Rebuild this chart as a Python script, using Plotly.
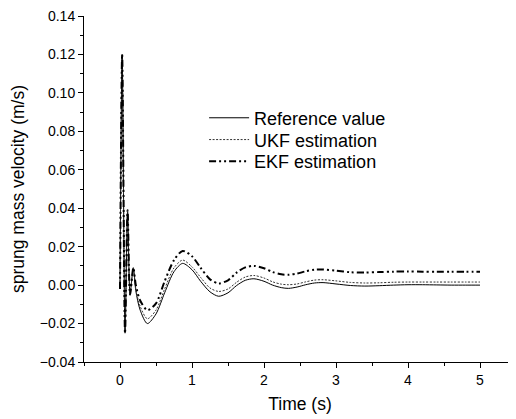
import plotly.graph_objects as go

# Time samples (s)
time_s = [0.0, 0.03, 0.07, 0.105, 0.14, 0.185, 0.22, 0.28, 0.38, 0.5, 0.62, 0.75, 0.87, 1.0, 1.12,
          1.25, 1.37, 1.5, 1.62, 1.74, 1.86, 2.0, 2.12, 2.24, 2.34, 2.46, 2.58, 2.7, 2.82, 3.0,
          3.2, 3.4, 3.6, 3.8, 4.0, 4.2, 4.4, 4.6, 4.8, 5.0]

reference_value = [-0.002, 0.12, -0.025, 0.038, -0.0045, 0.009, -0.003, -0.013, -0.020, -0.015,
                   -0.004, 0.007, 0.0113, 0.008, 0.002, -0.0035, -0.0058, -0.004, -0.0002, 0.0025,
                   0.0033, 0.002, 0.0, -0.0013, -0.0017, -0.001, 0.0002, 0.0011, 0.0013, 0.0006,
                   -0.0002, -0.0005, -0.0003, 0.0, 0.0002, 0.0002, 0.0001, 0.0, 0.0, 0.0]

ukf_estimation = [-0.002, 0.119, -0.024, 0.039, -0.004, 0.009, -0.002, -0.011, -0.0175, -0.013,
                  -0.002, 0.009, 0.013, 0.0095, 0.004, -0.0015, -0.0033, -0.002, 0.0015, 0.0042,
                  0.005, 0.0037, 0.0017, 0.0005, 0.0002, 0.0006, 0.0017, 0.0026, 0.0028, 0.0022,
                  0.0014, 0.0011, 0.0012, 0.0015, 0.0016, 0.0016, 0.0016, 0.0016, 0.0016, 0.0016]

ekf_estimation = [-0.002, 0.12, -0.025, 0.039, -0.005, 0.009, 0.0, -0.008, -0.013, -0.0095,
                  0.002, 0.013, 0.0178, 0.0150, 0.009, 0.003, 0.0009, 0.0025, 0.0065, 0.0092,
                  0.0100, 0.0088, 0.0068, 0.0056, 0.0054, 0.0060, 0.0072, 0.0080, 0.0081, 0.0075,
                  0.0067, 0.0065, 0.0068, 0.0070, 0.0071, 0.0070, 0.0069, 0.0070, 0.0070, 0.0070]

x_tick_vals = [0, 1, 2, 3, 4, 5]
y_tick_vals = [-0.04, -0.02, 0.00, 0.02, 0.04, 0.06, 0.08, 0.10, 0.12, 0.14]

FONT = "Liberation Sans, Arial, sans-serif"

fig = go.Figure()
fig.add_trace(go.Scatter(x=time_s, y=reference_value, mode="lines", name="Reference value",
                         legend="legend",
                         line=dict(color="black", width=1, shape="spline", smoothing=0.8)))
fig.add_trace(go.Scatter(x=time_s, y=ukf_estimation, mode="lines", name="UKF estimation",
                         legend="legend2",
                         line=dict(color="#333333", width=1, dash="2px,1.5px", shape="spline", smoothing=0.8)))
fig.add_trace(go.Scatter(x=time_s, y=ekf_estimation, mode="lines", name="EKF estimation",
                         legend="legend3",
                         line=dict(color="black", width=2, dash="7px,3px,2px,3px,2px,3px",
                                   shape="spline", smoothing=0.8)))

leg_common = dict(x=0.278, xanchor="left", yanchor="middle", bgcolor="rgba(0,0,0,0)",
                  font=dict(size=18, family=FONT), itemwidth=40)

fig.update_layout(
    width=516, height=419,
    margin=dict(l=76, r=8, t=8, b=65),
    paper_bgcolor="white", plot_bgcolor="white",
    font=dict(family=FONT, color="black", size=14),
    showlegend=True,
    legend=dict(y=0.705, **leg_common),
    legend2=dict(y=0.642, **leg_common),
    legend3=dict(y=0.579, **leg_common),
    xaxis=dict(range=[-0.5, 5.5], tickvals=x_tick_vals, ticks="outside", ticklen=5,
               tickwidth=1, tickcolor="black", showline=True, linecolor="black", linewidth=1,
               showgrid=False, zeroline=False, tickfont=dict(size=14), automargin=False,
               ticklabeloverflow="allow",
               minor=dict(dtick=0.5, tick0=0, ticks="outside", ticklen=3, tickcolor="black"),
               title=dict(text="Time (s)", font=dict(size=17.5), standoff=10)),
    yaxis=dict(range=[-0.04, 0.14], tickvals=y_tick_vals, tickformat=".2f", ticks="outside",
               ticklen=5, tickwidth=1, tickcolor="black", showline=True, linecolor="black",
               linewidth=1, showgrid=False, zeroline=False, tickfont=dict(size=14), automargin=False,
               ticklabeloverflow="allow",
               minor=dict(dtick=0.01, tick0=0, ticks="outside", ticklen=3, tickcolor="black"),
               title=dict(text="sprung mass velocity (m/s)", font=dict(size=17.5), standoff=10)),
)

fig.write_html("out.html")
